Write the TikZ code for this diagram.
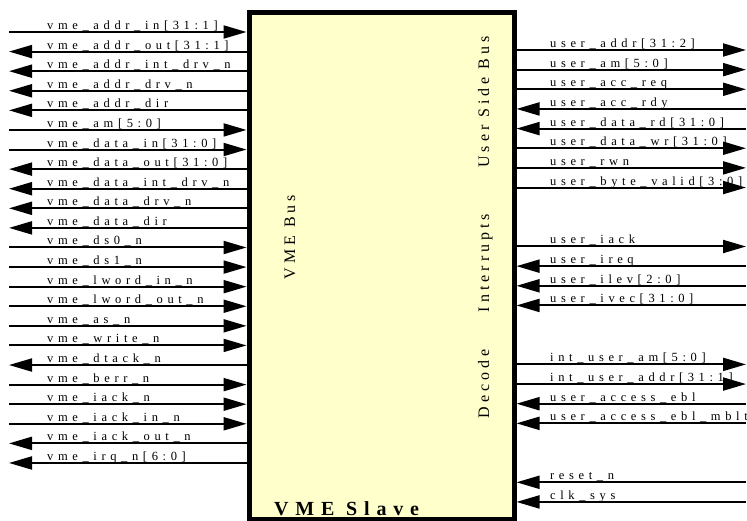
\documentclass[tikz,border=0pt]{standalone}
\usepackage{fontspec}
\setmainfont{Liberation Serif}
\newfontfamily\lblfont[LetterSpace=37]{Liberation Serif}
\newfontfamily\ttlfont[LetterSpace=25]{Liberation Serif}
\newfontfamily\bigfont[LetterSpace=34]{Liberation Serif}
\usetikzlibrary{arrows.meta}
\definecolor{boxfill}{RGB}{255,255,204}
\tikzset{
  sig/.style={line width=2pt},
  tipend/.style={-{Triangle[length=23pt,width=13pt]}},
  tipstart/.style={{Triangle[length=23pt,width=13pt]}-},
  lbl/.style={anchor=base west, inner sep=0pt, font=\lblfont\fontsize{12.5}{14}\selectfont},
  ttl/.style={rotate=90, anchor=base, inner sep=0pt, font=\ttlfont\fontsize{16}{18}\selectfont},
  blockbox/.style={draw, fill=boxfill, line width=5pt, inner sep=0pt},
}
\begin{document}
\begin{tikzpicture}[x=1pt,y=-1pt]
\useasboundingbox (0,0) rectangle (747,521);
\node[blockbox, minimum width=265pt, minimum height=506pt] (box) at (381.5,266) {};
% left side signals
\foreach \i/\t/\d in {
  0/{vme\_addr\_in[31:1]}/tipend,
  1/{vme\_addr\_out[31:1]}/tipstart,
  2/{vme\_addr\_int\_drv\_n}/tipstart,
  3/{vme\_addr\_drv\_n}/tipstart,
  4/{vme\_addr\_dir}/tipstart,
  5/{vme\_am[5:0]}/tipend,
  6/{vme\_data\_in[31:0]}/tipend,
  7/{vme\_data\_out[31:0]}/tipstart,
  8/{vme\_data\_int\_drv\_n}/tipstart,
  9/{vme\_data\_drv\_n}/tipstart,
  10/{vme\_data\_dir}/tipstart,
  11/{vme\_ds0\_n}/tipend,
  12/{vme\_ds1\_n}/tipend,
  13/{vme\_lword\_in\_n}/tipend,
  14/{vme\_lword\_out\_n}/tipend,
  15/{vme\_as\_n}/tipend,
  16/{vme\_write\_n}/tipend,
  17/{vme\_dtack\_n}/tipstart,
  18/{vme\_berr\_n}/tipend,
  19/{vme\_iack\_n}/tipend,
  20/{vme\_iack\_in\_n}/tipend,
  21/{vme\_iack\_out\_n}/tipstart,
  22/{vme\_irq\_n[6:0]}/tipstart}{
  \pgfmathsetmacro{\yy}{32+19.59*\i}
  \coordinate (lo\i) at (9,\yy);
  \coordinate (li\i) at (box.west |- lo\i);
  \draw[sig,\d] (lo\i) -- (li\i);
  \node[lbl] (lt\i) at (47,\yy-2.5) {\t};
}
% right side signals
\foreach \k/\t/\d in {
  0/{user\_addr[31:2]}/tipend,
  1/{user\_am[5:0]}/tipend,
  2/{user\_acc\_req}/tipend,
  3/{user\_acc\_rdy}/tipstart,
  4/{user\_data\_rd[31:0]}/tipstart,
  5/{user\_data\_wr[31:0]}/tipend,
  6/{user\_rwn}/tipend,
  7/{user\_byte\_valid[3:0]}/tipend,
  10/{user\_iack}/tipend,
  11/{user\_ireq}/tipstart,
  12/{user\_ilev[2:0]}/tipstart,
  13/{user\_ivec[31:0]}/tipstart,
  16/{int\_user\_am[5:0]}/tipend,
  17/{int\_user\_addr[31:1]}/tipend,
  18/{user\_access\_ebl}/tipstart,
  19/{user\_access\_ebl\_mblt}/tipstart,
  22/{reset\_n}/tipstart,
  23/{clk\_sys}/tipstart}{
  \pgfmathsetmacro{\yy}{50+19.65*\k}
  \coordinate (ro\k) at (746,\yy);
  \coordinate (ri\k) at (box.east |- ro\k);
  \draw[sig,\d] (ri\k) -- (ro\k);
  \node[lbl] (rt\k) at (550,\yy-2.5) {\t};
}
% titles inside the block
\node[ttl] (vmebus) at (295,237) {VME Bus};
\node[ttl] (userbus) at (489,102) {User Side Bus};
\node[ttl] (intr) at (489,263) {Interrupts};
\node[ttl] (decode) at (489,384) {Decode};
\node[anchor=base west, inner sep=0pt, font=\bigfont\bfseries\fontsize{20}{22}\selectfont] (slave) at (274,515) {VME Slave};
\end{tikzpicture}
\end{document}
